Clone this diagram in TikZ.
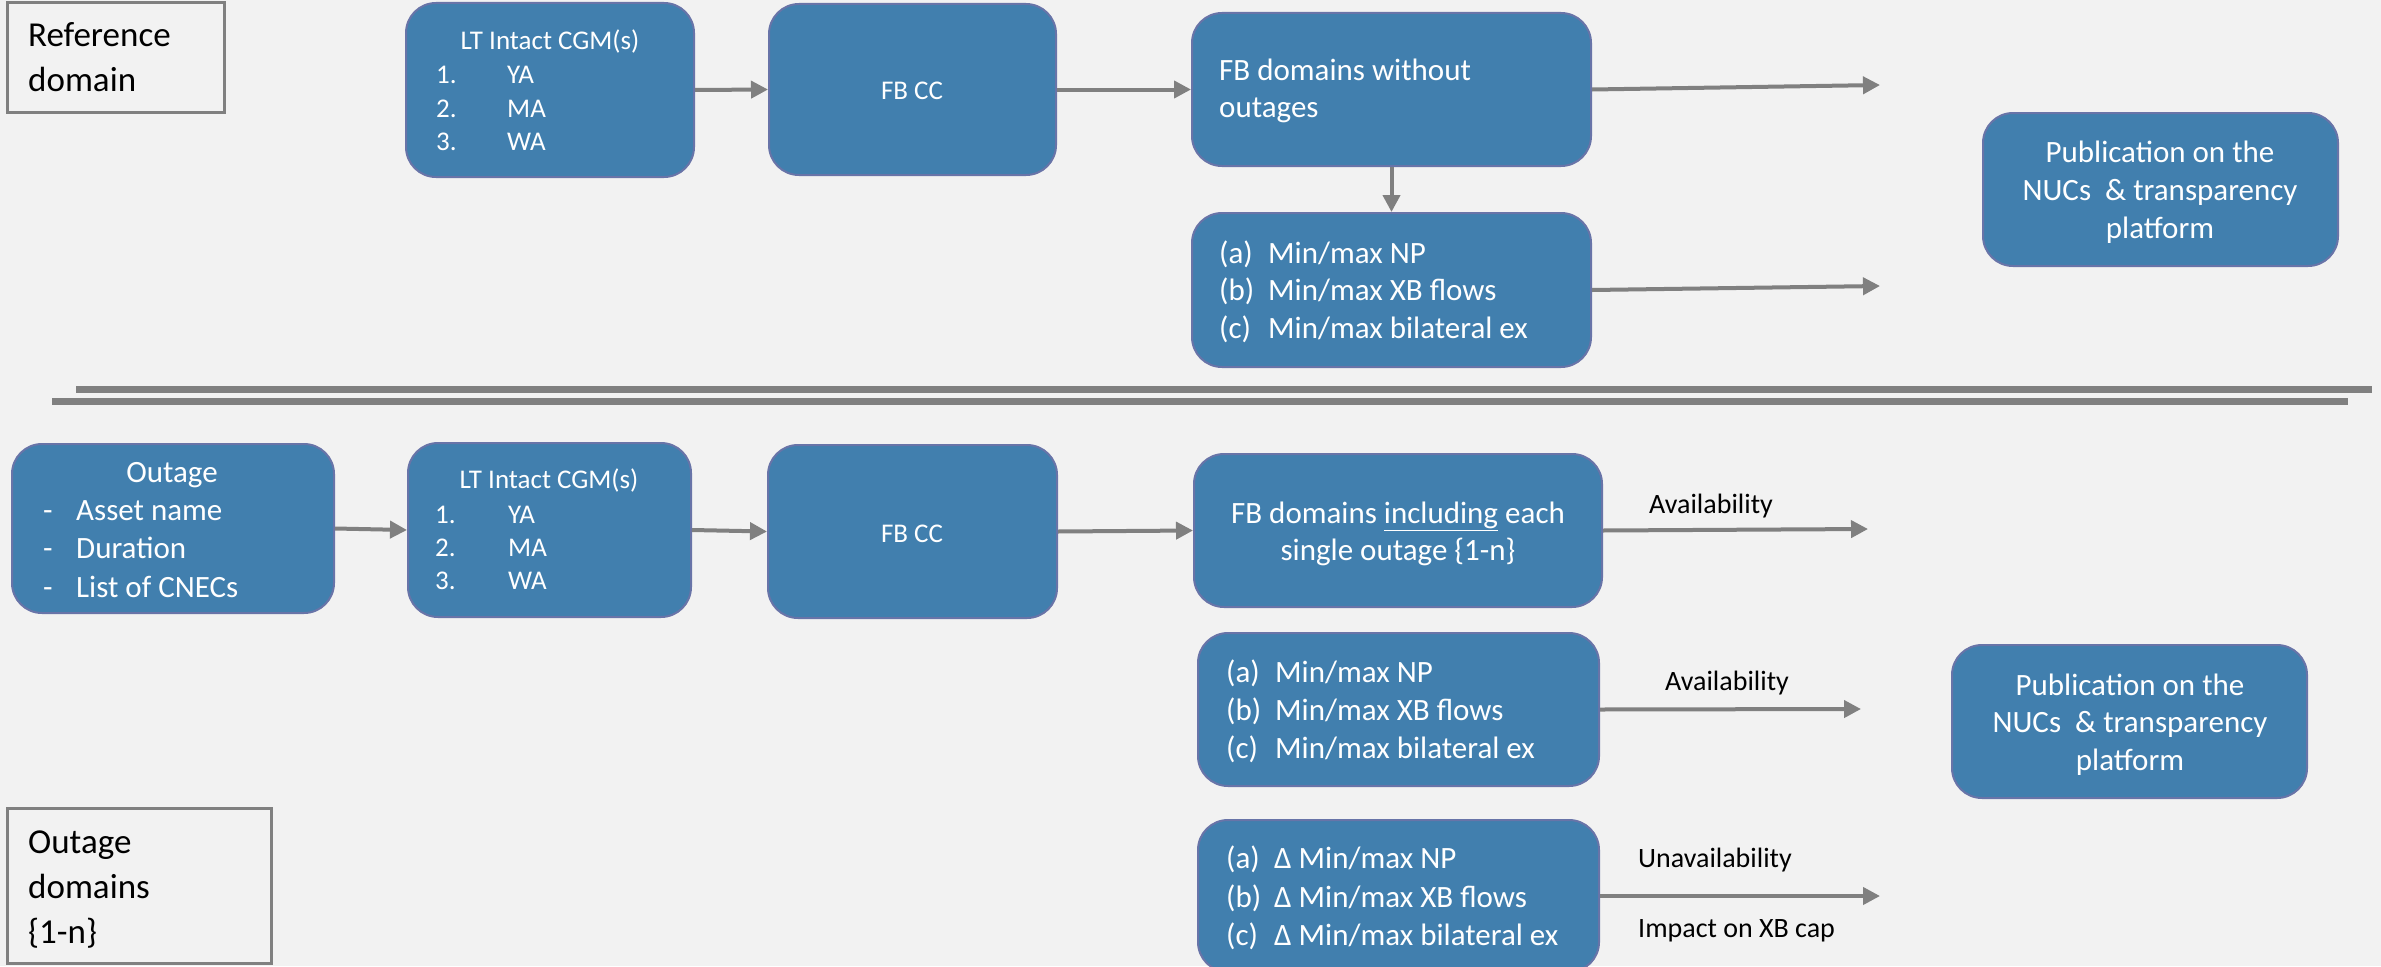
\documentclass[tikz,border=0pt]{standalone}
\usepackage{fontspec}
\setmainfont{Carlito}
\usetikzlibrary{arrows.meta,fit}
\definecolor{bg}{RGB}{242,242,242}
\definecolor{boxfill}{RGB}{65,127,174}
\definecolor{boxline}{RGB}{104,116,168}
\definecolor{arrgray}{RGB}{128,128,128}
\newcommand{\fs}[1]{\fontsize{#1}{#1}\selectfont}
\tikzset{
  box/.style={draw=boxline, line width=2pt, fill=boxfill, rounded corners=30pt, inner sep=0pt},
  lblbox/.style={draw=arrgray, line width=3pt, inner sep=0pt},
  wl/.style={text=white, inner sep=0pt, anchor=base west},
  wc/.style={text=white, inner sep=0pt, anchor=base},
  bl/.style={text=black, inner sep=0pt, anchor=base west},
  arr/.style={draw=arrgray, line width=4pt, -{Triangle[length=17pt,width=17pt]}},
  sep/.style={draw=arrgray, line width=7pt}
}
\begin{document}
\begin{tikzpicture}[x=1pt,y=-1pt]
\useasboundingbox (0,0) rectangle (2381,966);
\fill[bg] (0,0) rectangle (2381,966);

% ---------- Reference domain ----------
\node[lblbox, fit={(7,3) (224,112)}] (ref) {};
\node[bl, font=\fs{35}] (reft1) at (28,47) {Reference};
\node[bl, font=\fs{35}] (reft2) at (28,92) {domain};

\node[box, fit={(406,3) (694,177)}] (lt1) {};
\node[wc, font=\fs{27}] (lt1t) at (550,50) {LT Intact CGM(s)};
\node[wl, font=\fs{27}] (lt1n1) at (436,83) {1.};
\node[wl, font=\fs{27}] (lt1a) at (507,83) {YA};
\node[wl, font=\fs{27}] (lt1n2) at (436,117) {2.};
\node[wl, font=\fs{27}] (lt1b) at (507,117) {MA};
\node[wl, font=\fs{27}] (lt1n3) at (436,150) {3.};
\node[wl, font=\fs{27}] (lt1c) at (507,150) {WA};

\node[box, fit={(769,4) (1056,175)}] (fbcc1) {};
\node[wc, font=\fs{27}] (fbcc1t) at (912,99) {FB CC};

\node[box, fit={(1192,13) (1591,166)}] (fbd1) {};
\node[wl, font=\fs{31}] (fbd1a) at (1219,80) {FB domains without};
\node[wl, font=\fs{31}] (fbd1b) at (1219,117) {outages};

\node[box, fit={(1192,213) (1591,367)}] (mm1) {};
\node[wl, font=\fs{31}] (mm1a) at (1219,263) {(a)};
\node[wl, font=\fs{31}] (mm1at) at (1268,263) {Min/max NP};
\node[wl, font=\fs{31}] (mm1b) at (1219,300) {(b)};
\node[wl, font=\fs{31}] (mm1bt) at (1268,300) {Min/max XB flows};
\node[wl, font=\fs{31}] (mm1c) at (1219,338) {(c)};
\node[wl, font=\fs{31}] (mm1ct) at (1268,338) {Min/max bilateral ex};

\node[box, fit={(1983,113) (2338,266)}] (pub1) {};
\node[wc, font=\fs{31}] (pub1a) at (2160,162) {Publication on the};
\node[wc, font=\fs{31}] (pub1b) at (2160,200) {NUCs\ \ \& transparency};
\node[wc, font=\fs{31}] (pub1c) at (2160,238) {platform};

\coordinate (c1) at (1880,85);
\coordinate (c2) at (1880,286);
\draw[arr] (lt1.east) -- (fbcc1.west);
\draw[arr] (fbcc1.east) -- (fbd1.west);
\draw[arr] (fbd1.south) -- (mm1.north);
\draw[arr] (fbd1.east) -- (c1);
\draw[arr] (mm1.east) -- (c2);

% ---------- separators ----------
\draw[sep] (76,389) -- (2372,389);
\draw[sep] (52,401) -- (2348,401);

% ---------- Outage domains ----------
\node[box, fit={(12,444) (334,613)}] (out) {};
\node[wc, font=\fs{31}] (outt) at (172,482) {Outage};
\node[wl, font=\fs{31}] (outd1) at (43,520) {-};
\node[wl, font=\fs{31}] (outa) at (76,520) {Asset name};
\node[wl, font=\fs{31}] (outd2) at (43,558) {-};
\node[wl, font=\fs{31}] (outb) at (76,558) {Duration};
\node[wl, font=\fs{31}] (outd3) at (43,597) {-};
\node[wl, font=\fs{31}] (outc) at (76,597) {List of CNECs};

\node[box, fit={(408,443) (691,617)}] (lt2) {};
\node[wc, font=\fs{27}] (lt2t) at (549,488) {LT Intact CGM(s)};
\node[wl, font=\fs{27}] (lt2n1) at (435,523) {1.};
\node[wl, font=\fs{27}] (lt2a) at (508,523) {YA};
\node[wl, font=\fs{27}] (lt2n2) at (435,556) {2.};
\node[wl, font=\fs{27}] (lt2b) at (508,556) {MA};
\node[wl, font=\fs{27}] (lt2n3) at (435,589) {3.};
\node[wl, font=\fs{27}] (lt2c) at (508,589) {WA};

\node[box, fit={(768,445) (1057,618)}] (fbcc2) {};
\node[wc, font=\fs{27}] (fbcc2t) at (912,542) {FB CC};

\node[box, fit={(1194,454) (1602,607)}] (fbd2) {};
\node[wc, font=\fs{31}] (fbd2a) at (1398,523) {FB domains \underline{including} each};
\node[wc, font=\fs{31}] (fbd2b) at (1398,560) {single outage \{1-n\}};

\node[box, fit={(1198,633) (1599,786)}] (mm2) {};
\node[wl, font=\fs{31}] (mm2a) at (1226,682) {(a)};
\node[wl, font=\fs{31}] (mm2at) at (1275,682) {Min/max NP};
\node[wl, font=\fs{31}] (mm2b) at (1226,720) {(b)};
\node[wl, font=\fs{31}] (mm2bt) at (1275,720) {Min/max XB flows};
\node[wl, font=\fs{31}] (mm2c) at (1226,758) {(c)};
\node[wl, font=\fs{31}] (mm2ct) at (1275,758) {Min/max bilateral ex};

\node[box, fit={(1198,820) (1599,972)}] (dlt) {};
\node[wl, font=\fs{31}] (dlta) at (1226,868) {(a)};
\node[wl, font=\fs{31}] (dltat) at (1274,868) {Δ Min/max NP};
\node[wl, font=\fs{31}] (dltb) at (1226,907) {(b)};
\node[wl, font=\fs{31}] (dltbt) at (1274,907) {Δ Min/max XB flows};
\node[wl, font=\fs{31}] (dltc) at (1226,945) {(c)};
\node[wl, font=\fs{31}] (dltct) at (1274,945) {Δ Min/max bilateral ex};

\node[box, fit={(1952,645) (2307,798)}] (pub2) {};
\node[wc, font=\fs{31}] (pub2a) at (2130,695) {Publication on the};
\node[wc, font=\fs{31}] (pub2b) at (2130,732) {NUCs\ \ \& transparency};
\node[wc, font=\fs{31}] (pub2c) at (2130,770) {platform};

\node[lblbox, fit={(7,808) (271,963)}] (odom) {};
\node[bl, font=\fs{35}] (odom1) at (28,853) {Outage};
\node[bl, font=\fs{35}] (odom2) at (28,898) {domains};
\node[bl, font=\fs{35}] (odom3) at (28,943) {\{1-n\}};

\coordinate (c3) at (1868,529);
\coordinate (c4) at (1861,709);
\coordinate (c5) at (1880,896);
\draw[arr] (out.east) -- (lt2.west);
\draw[arr] (lt2.east) -- (fbcc2.west);
\draw[arr] (fbcc2.east) -- (fbd2.west);
\draw[arr] (fbd2.east) -- (c3);
\draw[arr] (mm2.east) -- (c4);
\draw[arr] (dlt.east) -- (c5);

\node[bl, font=\fs{28}] (av1) at (1649,513) {Availability};
\node[bl, font=\fs{28}] (av2) at (1665,690) {Availability};
\node[bl, font=\fs{28}] (unav) at (1638,867) {Unavailability};
\node[bl, font=\fs{28}] (imp) at (1638,937) {Impact on XB cap};
\end{tikzpicture}
\end{document}
